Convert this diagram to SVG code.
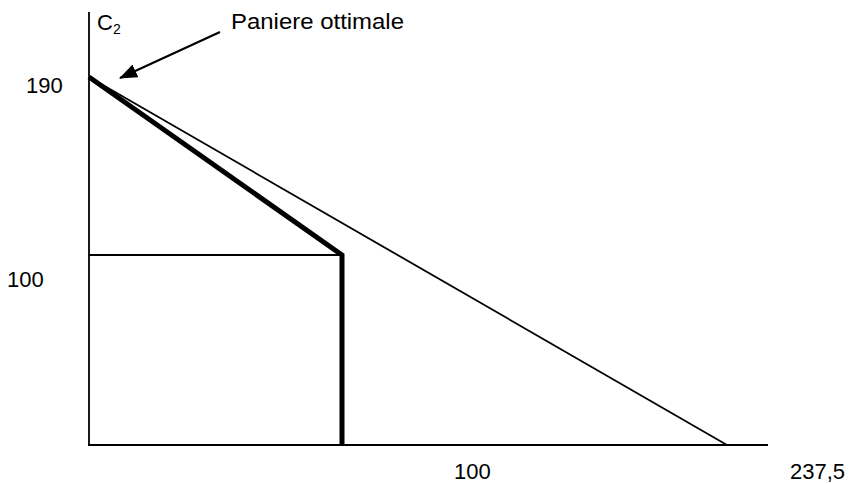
<svg xmlns="http://www.w3.org/2000/svg" width="851" height="484" viewBox="0 0 851 484">
<style>
.t{font-family:"Liberation Sans",Arial,sans-serif;font-size:22px;fill:#000}
.thin{stroke:#000;stroke-width:1.8;fill:none}
.thick{stroke:#000;stroke-width:5;fill:none;stroke-linejoin:miter}
</style>
<defs>
<marker id="ah" markerWidth="18" markerHeight="14" refX="17" refY="7" orient="auto" markerUnits="userSpaceOnUse" viewBox="0 0 18 14">
<path d="M0,0 L18,7 L0,14 Z" fill="#000"/>
</marker>
</defs>
<rect width="851" height="484" fill="#fff"/>
<g id="axes">
<line class="thin" x1="89" y1="12" x2="89" y2="445"/>
<line class="thin" x1="88" y1="445" x2="768" y2="445"/>
</g>
<g id="connectors">
<line class="thin" x1="89" y1="77" x2="727" y2="445"/>
<line class="thin" x1="89" y1="255" x2="342" y2="255"/>
<polyline class="thick" points="89,77 342,255 342,446"/>
<line x1="220" y1="32" x2="120" y2="78" stroke="#000" stroke-width="2.2" marker-end="url(#ah)"/>
</g>
<g id="labels">
<text class="t" x="97" y="30" font-size="21">C<tspan font-size="14" dy="4">2</tspan></text>
<text class="t" x="231" y="29" textLength="173" lengthAdjust="spacingAndGlyphs">Paniere ottimale</text>
<text class="t" x="26" y="93">190</text>
<text class="t" x="7" y="287">100</text>
<text class="t" x="454" y="479">100</text>
<text class="t" x="790" y="479">237,5</text>
</g>
</svg>
